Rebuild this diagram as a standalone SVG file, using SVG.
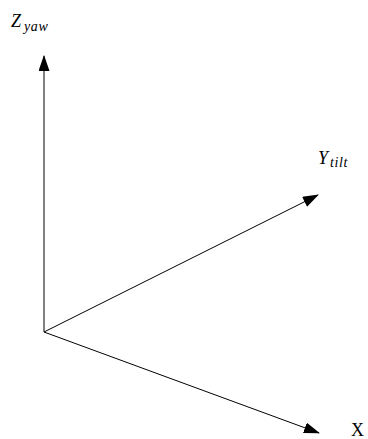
<svg xmlns="http://www.w3.org/2000/svg" width="368" height="439" viewBox="0 0 368 439">
<style>
.ax{stroke:#000;stroke-width:1;fill:none}
.lbl{font-family:"Liberation Serif",serif;font-size:18px;fill:#000}
.it{font-style:italic}
.sub{font-size:14px;font-style:italic;letter-spacing:0.6px}
</style>
<defs>
<marker id="ah" markerWidth="16" markerHeight="12" refX="15" refY="5.5" orient="auto" markerUnits="userSpaceOnUse">
<path d="M0,0 L16,5.5 L0,11 Z" fill="#000"/>
</marker>
</defs>
<rect width="368" height="439" fill="#fff"/>
<g id="connectors">
<line class="ax" x1="44" y1="332" x2="44" y2="56" marker-end="url(#ah)"/>
<line class="ax" x1="44" y1="332" x2="318" y2="195" marker-end="url(#ah)"/>
<line class="ax" x1="44" y1="332" x2="319" y2="433" marker-end="url(#ah)"/>
</g>
<g id="z-label"><text class="lbl it" x="11" y="27">Z<tspan class="sub" dx="3" dy="4">yaw</tspan></text></g>
<g id="y-label"><text class="lbl it" x="318" y="164">Y<tspan class="sub" dx="2" dy="3">tilt</tspan></text></g>
<g id="x-label"><text class="lbl" x="351" y="436">X</text></g>
</svg>
